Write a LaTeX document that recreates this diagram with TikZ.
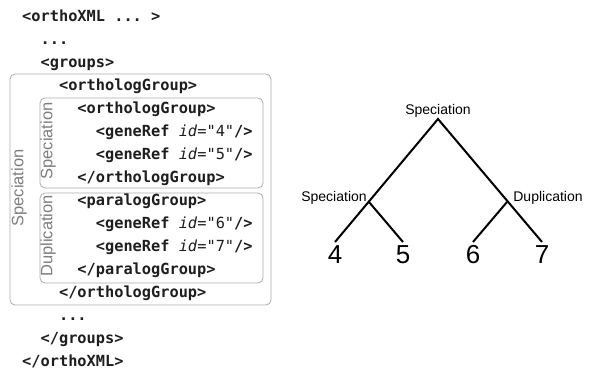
\documentclass[tikz,border=0pt]{standalone}
\usepackage{fontspec}
\setmonofont{DejaVu Sans Mono}
\setsansfont{Liberation Sans}
\usepackage{xcolor}
\usetikzlibrary{matrix}

\definecolor{codegray}{HTML}{1E1E1E}
\definecolor{boxgray}{HTML}{ABABAB}
\definecolor{labelgray}{HTML}{7E7E7E}
\newcommand{\xind}{\hspace*{1.204em}}

\tikzset{
	xmlbox/.style={draw=boxgray, line width=0.8pt, rounded corners=5pt},
	grouplabel/.style={font=\sffamily\fontsize{16.5}{18}\selectfont, text=labelgray, rotate=90},
	treelabel/.style={font=\sffamily\fontsize{14}{16}\selectfont, anchor=base},
	leaf/.style={font=\sffamily\fontsize{26}{28}\selectfont, anchor=north, inner sep=3.5pt},
	branch/.style={line width=2pt},
}

\begin{document}
\begin{tikzpicture}[x=1pt,y=-1pt]
	\useasboundingbox (0,0) rectangle (589,375);
	% group frames
	\draw[xmlbox] (10,74) rectangle (271,305);
	\draw[xmlbox] (40,98) rectangle (263,188);
	\draw[xmlbox] (40,193) rectangle (263,283);
	\node[grouplabel] (outersp) at (19,188) {Speciation};
	\node[grouplabel] (innersp) at (48,141) {Speciation};
	\node[grouplabel] (innerdup) at (48,236) {Duplication};
	% the xml listing
	\matrix (m) [matrix of nodes, matrix anchor=north west, inner sep=0pt, row sep=9pt,
		nodes={anchor=base west, inner sep=0pt, text height=11pt, text depth=3pt,
			font=\ttfamily\bfseries\fontsize{15.3}{18}\selectfont, text=codegray}] at (22,10.5) {
		<orthoXML ... > \\
		\xind ... \\
		\xind <groups> \\
		\xind\xind <orthologGroup> \\
		\xind\xind\xind <orthologGroup> \\
		\xind\xind\xind\xind <geneRef\mdseries\ \textit{id}="4"\bfseries/> \\
		\xind\xind\xind\xind <geneRef\mdseries\ \textit{id}="5"\bfseries/> \\
		\xind\xind\xind </orthologGroup> \\
		\xind\xind\xind <paralogGroup> \\
		\xind\xind\xind\xind <geneRef\mdseries\ \textit{id}="6"\bfseries/> \\
		\xind\xind\xind\xind <geneRef\mdseries\ \textit{id}="7"\bfseries/> \\
		\xind\xind\xind </paralogGroup> \\
		\xind\xind </orthologGroup> \\
		\xind\xind ... \\
		\xind </groups> \\
		</orthoXML> \\
	};
	% the tree
	\coordinate (root) at (438,119);
	\coordinate (sp) at (369,202);
	\coordinate (dup) at (507,202);
	\node[leaf] (g4) at (335,242) {4};
	\node[leaf] (g5) at (403,242) {5};
	\node[leaf] (g6) at (473,242) {6};
	\node[leaf] (g7) at (542,242) {7};
	\draw[branch] (g4.north) -- (root) -- (g7.north);
	\draw[branch] (sp) -- (g5.north);
	\draw[branch] (dup) -- (g6.north);
	\node[treelabel] (rootlab) at (438,114) {Speciation};
	\node[treelabel] (splab) at (334,201) {Speciation};
	\node[treelabel] (duplab) at (548,201) {Duplication};
\end{tikzpicture}
\end{document}
